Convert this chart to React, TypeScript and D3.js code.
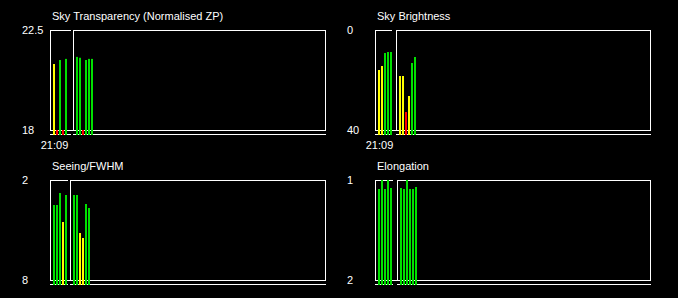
import React from "react";
import * as d3 from "d3";

// ---- data ----
const titles = ["Sky Transparency (Normalised ZP)", "Sky Brightness", "Seeing/FWHM", "Elongation"];
const yTopLabels = [22.5, 0, 2, 1];
const yBottomLabels = [18, 40, 8, 2];

const startTime = "21:06";
const firstLabel = "21:09";

const timesA = ["21:09", "21:12", "21:15", "21:18", "21:21"];
const timesB1 = ["21:32", "21:35", "21:38", "21:41", "21:44", "21:47"];
const timesB2 = ["21:30", "21:33", "21:36", "21:39", "21:42", "21:45"];
const timesB3 = ["21:29", "21:32", "21:35", "21:38", "21:41", "21:44"];
const timesB4 = ["21:31", "21:34", "21:37", "21:40", "21:43", "21:46"];

const segEnds = ["21:27", "21:23", "21:24", "21:24"];
const segStarts = ["21:29", "21:27", "21:26", "21:28"];

const transparency = [20.97, 17.5, 21.15, 17.5, 21.2, 21.29, 21.25, 17.5, 21.15, 21.2, 21.2];
const transparencyStatus = ["Y", "R", "G", "R", "G", "G", "G", "R", "G", "G", "G"];

const brightness = [16, 14.4, 9.2, 8.8, 8.8, 18.4, 18.4, 32.8, 26.4, 13.2, 10.8];
const brightnessStatus = ["Y", "Y", "G", "G", "G", "Y", "Y", "R", "Y", "G", "G"];

const seeing = [3.5, 3.5, 2.78, 4.52, 2.9, 2.9, 2.9, 5.18, 5.48, 3.44, 3.68];
const seeingStatus = ["G", "G", "G", "Y", "G", "G", "G", "Y", "Y", "G", "G"];

const elongation = [1.09, 1.0, 1.09, 1.0, 1.08, 1.08, 1.09, 1.0, 1.09, 1.09, 1.07];
const elongationStatus = ["G", "G", "G", "G", "G", "G", "G", "G", "G", "G", "G"];

const statusColors: Record<string, string> = { G: "#00e000", Y: "#ffff00", R: "#ff0000" };

const W = 678;
const H = 298;
const panelW = 275;
const panelH = 100;
const lefts = [50, 375, 50, 375];
const tops = [30, 30, 180, 180];

const parse = d3.timeParse("%H:%M");

export default function App() {
  const t0 = parse(startTime) as Date;
  const t1 = d3.timeMinute.offset(t0, panelW);
  const values = [transparency, brightness, seeing, elongation];
  const statuses = [transparencyStatus, brightnessStatus, seeingStatus, elongationStatus];
  const timesB = [timesB1, timesB2, timesB3, timesB4];
  const font = "'Liberation Sans', Arial, sans-serif";

  return (
    <svg
      width={W}
      height={H}
      style={{ position: "fixed", left: 0, top: 0, background: "#000", display: "block" }}
    >
      <rect x={0} y={0} width={W} height={H} fill="#000" />
      {titles.map((title, p) => {
        const L = lefts[p];
        const T = tops[p];
        const B = T + panelH;
        const R = L + panelW;
        const x = d3.scaleTime().domain([t0, t1]).range([L, R]);
        const y = d3.scaleLinear().domain([yBottomLabels[p], yTopLabels[p]]).range([B, T]);
        const times = [...timesA, ...timesB[p]].map((s) => parse(s) as Date);
        const segEnd = x(parse(segEnds[p]) as Date);
        const segStart = x(parse(segStarts[p]) as Date);
        const baseY = B + 4.5;
        const stroke = "#ffffff";
        return (
          <g key={p}>
            <text x={L + 2} y={T - 10} fill="#fff" fontSize={11} fontFamily={font}>
              {title}
            </text>
            <text x={L - 28} y={T + 4} fill="#fff" fontSize={11} fontFamily={font}>
              {yTopLabels[p]}
            </text>
            <text x={L - 28} y={B + 4} fill="#fff" fontSize={11} fontFamily={font}>
              {yBottomLabels[p]}
            </text>
            {/* segment A frame */}
            <line x1={L + 0.5} x2={L + 0.5} y1={T} y2={B + 1} stroke={stroke} />
            <line x1={L} x2={segEnd} y1={T + 0.5} y2={T + 0.5} stroke={stroke} />
            {/* segment B frame */}
            <rect x={segStart + 0.5} y={T + 0.5} width={R - segStart} height={panelH} fill="none" stroke={stroke} />
            <line x1={L} x2={R + 1} y1={B + 0.5} y2={B + 0.5} stroke={stroke} />
            {/* baselines */}
            <line x1={L} x2={segEnd} y1={baseY} y2={baseY} stroke={stroke} />
            <line x1={segStart} x2={R + 1} y1={baseY} y2={baseY} stroke={stroke} />
            {/* bars */}
            {values[p].map((v, i) => {
              const top = Math.max(T, Math.min(B, y(v)));
              return (
                <rect
                  key={i}
                  x={x(times[i])}
                  y={top}
                  width={2}
                  height={B + 5 - top}
                  fill={statusColors[statuses[p][i]]}
                />
              );
            })}
            {p < 2 && (
              <text
                x={x(parse(firstLabel) as Date) + 1.5}
                y={B + 19}
                fill="#fff"
                fontSize={11}
                fontFamily={font}
                textAnchor="middle"
              >
                {firstLabel}
              </text>
            )}
          </g>
        );
      })}
    </svg>
  );
}
